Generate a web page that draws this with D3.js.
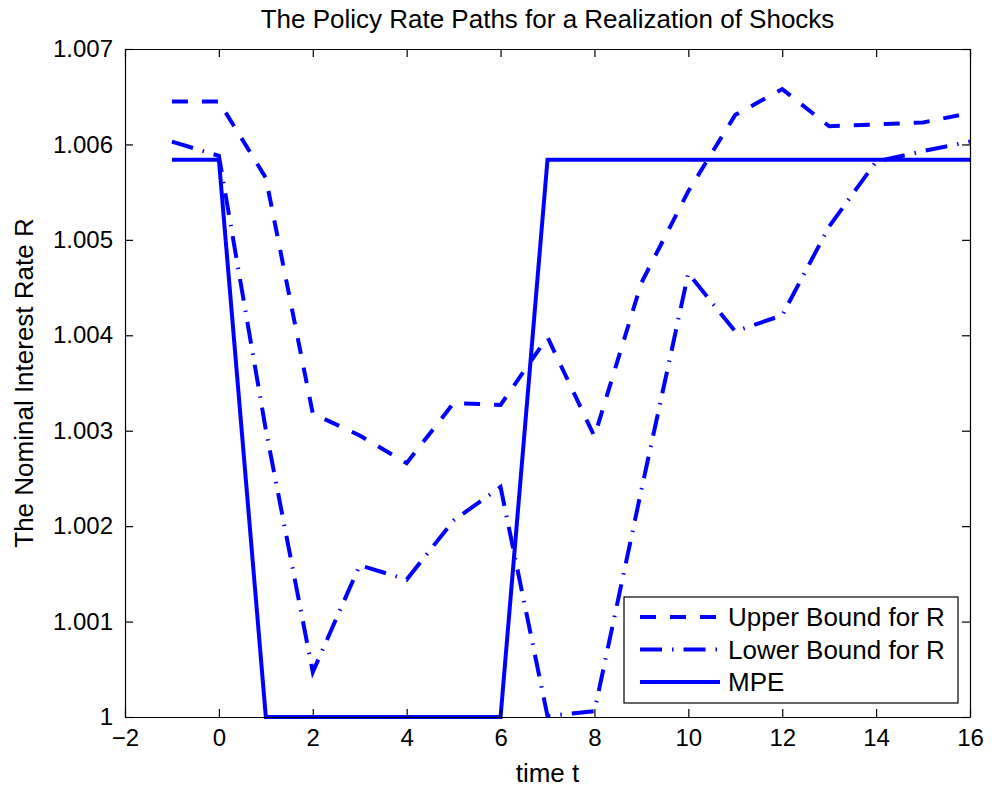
<!DOCTYPE html>
<html>
<head>
<meta charset="utf-8">
<script src="https://cdn.jsdelivr.net/npm/d3@7"></script>
<style>
body { margin: 0; background: #fff; }
text { font-family: "Liberation Sans", Arial, Helvetica, sans-serif; fill: #000; }
</style>
</head>
<body>
<div id="chart"></div>
<script>
// time axis
var times = [-1, 0, 1, 2, 3, 4, 5, 6, 7, 8, 9, 10, 11, 12, 13, 14, 15, 16];

// series
var upperBound = [1.00645, 1.00645, 1.00565, 1.00318, 1.00295, 1.00266, 1.00329, 1.00327, 1.00398, 1.00294,
    1.00455, 1.00551, 1.00631, 1.00658, 1.00619, 1.00621, 1.00623, 1.00633];
var lowerBound = [1.00603, 1.00588, 1.00301, 1.00047, 1.00159, 1.00144, 1.00206, 1.00241, 1.00001, 1.00006,
    1.00238, 1.00465, 1.00404, 1.00421, 1.00514, 1.00582, 1.00593, 1.00603];
var mpe = [1.00584, 1.00584, 1, 1, 1, 1, 1, 1, 1.00584, 1.00584,
    1.00584, 1.00584, 1.00584, 1.00584, 1.00584, 1.00584, 1.00584, 1.00584];

var xTicks = [-2, 0, 2, 4, 6, 8, 10, 12, 14, 16];
var yTicks = [1, 1.001, 1.002, 1.003, 1.004, 1.005, 1.006, 1.007];
var yTickLabels = ["1", "1.001", "1.002", "1.003", "1.004", "1.005", "1.006", "1.007"];

var seriesNames = ["Upper Bound for R", "Lower Bound for R", "MPE"];

var width = 992, height = 791;
var margin = {top: 49, right: 22, bottom: 74, left: 125};
var blue = "#0000ff";
var dashes = ["16,14", "22,10,1.5,10", null];

var svg = d3.select("#chart").append("svg")
    .attr("width", width)
    .attr("height", height);

var x = d3.scaleLinear().domain([-2, 16]).range([margin.left, width - margin.right]);
var y = d3.scaleLinear().domain([1, 1.007]).range([height - margin.bottom, margin.top]);

//plot box
svg.append("rect")
    .attr("x", x(-2))
    .attr("y", y(1.007))
    .attr("width", x(16) - x(-2))
    .attr("height", y(1) - y(1.007))
    .attr("fill", "#fff");

//series lines
var line = d3.line()
    .x(function (d) { return x(d.t); })
    .y(function (d) { return y(d.v); });

var allSeries = [upperBound, lowerBound, mpe].map(function (vals, i) {
    return {
        name: seriesNames[i],
        dash: dashes[i],
        points: times.map(function (t, j) { return {t: t, v: vals[j]}; })
    };
});

svg.selectAll("path.series")
    .data(allSeries)
    .enter()
    .append("path")
    .attr("class", "series")
    .attr("d", function (d) { return line(d.points); })
    .attr("fill", "none")
    .attr("stroke", blue)
    .attr("stroke-width", 4)
    .attr("stroke-dasharray", function (d) { return d.dash; });

//axes, ticks pointing inside
var fmtX = function (d) { return d < 0 ? "\u2212" + Math.abs(d) : String(d); };

var xAxis = svg.append("g")
    .attr("transform", "translate(0," + y(1) + ")")
    .call(d3.axisBottom(x).tickValues(xTicks).tickFormat(fmtX).tickSizeInner(-8).tickSizeOuter(0).tickPadding(12));

var yAxis = svg.append("g")
    .attr("transform", "translate(" + x(-2) + ",0)")
    .call(d3.axisLeft(y).tickValues(yTicks).tickFormat(function (d, i) { return yTickLabels[i]; })
        .tickSizeInner(-8).tickSizeOuter(0).tickPadding(12));

var xTop = svg.append("g")
    .attr("transform", "translate(0," + y(1.007) + ")")
    .call(d3.axisTop(x).tickValues(xTicks).tickFormat("").tickSizeInner(-8).tickSizeOuter(0));

var yRight = svg.append("g")
    .attr("transform", "translate(" + x(16) + ",0)")
    .call(d3.axisRight(y).tickValues(yTicks).tickFormat("").tickSizeInner(-8).tickSizeOuter(0));

svg.selectAll(".domain").attr("stroke", "#000").attr("stroke-width", 1.2);
svg.selectAll(".tick line").attr("stroke", "#000").attr("stroke-width", 1.2);
svg.selectAll(".tick text").style("font-size", "24px").attr("fill", "#000");

//titles
svg.append("text")
    .attr("x", (x(-2) + x(16)) / 2)
    .attr("y", 28)
    .attr("text-anchor", "middle")
    .style("font-size", "26px")
    .text("The Policy Rate Paths for a Realization of Shocks");

svg.append("text")
    .attr("x", (x(-2) + x(16)) / 2)
    .attr("y", 782)
    .attr("text-anchor", "middle")
    .style("font-size", "26px")
    .text("time t");

svg.append("text")
    .attr("transform", "translate(33," + (y(1) + y(1.007)) / 2 + ") rotate(-90)")
    .attr("text-anchor", "middle")
    .style("font-size", "26px")
    .text("The Nominal Interest Rate R");

//legend
var legend = svg.append("g")
    .attr("transform", "translate(624,597)");

legend.append("rect")
    .attr("width", 334)
    .attr("height", 106)
    .attr("fill", "#fff")
    .attr("stroke", "#000")
    .attr("stroke-width", 1.2);

var items = legend.selectAll("g.item")
    .data(allSeries)
    .enter()
    .append("g")
    .attr("class", "item")
    .attr("transform", function (d, i) { return "translate(0," + (20 + i * 32.5) + ")"; });

items.append("line")
    .attr("x1", 16)
    .attr("x2", 96)
    .attr("stroke", blue)
    .attr("stroke-width", 4)
    .attr("stroke-dasharray", function (d) { return d.dash; });

items.append("text")
    .attr("x", 104)
    .attr("dy", "0.36em")
    .style("font-size", "26px")
    .text(function (d) { return d.name; });
</script>
</body>
</html>
